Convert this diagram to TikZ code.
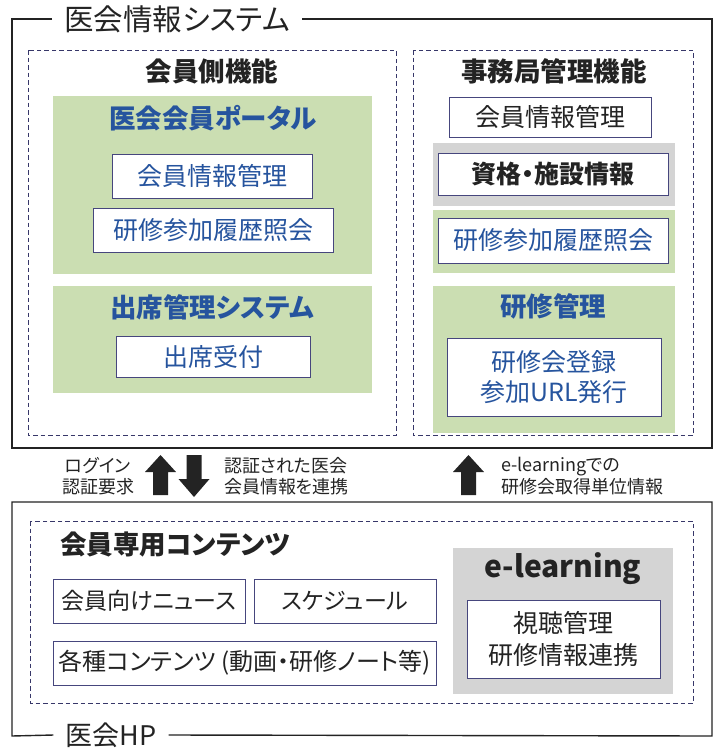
\documentclass[tikz,border=0pt]{standalone}
\usepackage{fontspec}
\setmainfont{Noto Sans CJK JP}[RawFeature=+palt]
\definecolor{framec}{RGB}{35,35,35}
\definecolor{dashc}{RGB}{55,55,105}
\definecolor{boxc}{RGB}{70,70,125}
\definecolor{greenc}{RGB}{203,222,178}
\definecolor{grayc}{RGB}{212,212,212}
\definecolor{bluec}{RGB}{38,84,158}
\definecolor{txtc}{RGB}{35,35,35}
\begin{document}
\begin{tikzpicture}[x=1pt,y=-1pt,
  frame/.style={draw=framec,line width=1.4pt},
  dbox/.style={draw=dashc,line width=1pt,dash pattern=on 4.5pt off 3pt},
  gbox/.style={fill=greenc,draw=none},
  graybox/.style={fill=grayc,draw=none},
  wbox/.style={draw=boxc,fill=white,line width=0.9pt,inner sep=0pt,align=center},
  maintitle/.style={inner sep=0pt,text=txtc,font=\fontsize{29.5}{32}\selectfont},
  ptitle/.style={inner sep=0pt,text=txtc,font=\fontsize{26.5}{30}\selectfont\bfseries},
  btitle/.style={inner sep=0pt,text=bluec,font=\fontsize{26.5}{30}\selectfont\bfseries},
  btext/.style={wbox,text=bluec,font=\fontsize{25}{30}\selectfont},
  ktext/.style={wbox,text=txtc,font=\fontsize{25}{32}\selectfont},
  stext/.style={wbox,text=txtc,font=\fontsize{23}{30}\selectfont},
  lbl/.style={inner sep=0pt,text=txtc,font=\fontsize{18}{21.5}\selectfont},
  arr/.style={fill=framec,draw=none}]
\useasboundingbox (0,0) rectangle (720,750);

% ===== top frame =====
\node[maintitle] (systitle) at (177,19) {医会情報システム};
\draw[frame] ([xshift=-12pt]systitle.west) -- (12,19) -- (12,448) -- (712,448) -- (712,19) -- ([xshift=12pt]systitle.east);

% left panel
\draw[dbox] (28,50) rectangle (396,435);
\node[ptitle] (memtitle) at (212,71) {会員側機能};
\fill[gbox] (53,96) rectangle (372,274);
\node[btitle] (portal) at (213,118) {医会会員ポータル};
\node[btext,minimum width=200,minimum height=44] (pinfo) at (212,176) {会員情報管理};
\node[btext,minimum width=240,minimum height=44] (phist) at (213,230) {研修参加履歴照会};
\fill[gbox] (53,286) rectangle (372,393);
\node[btitle] (attend) at (212,307) {出席管理システム};
\node[btext,minimum width=194,minimum height=41] (recept) at (213,356.5) {出席受付};

% right panel
\draw[dbox] (413,50) rectangle (693,435);
\node[ptitle] (offtitle) at (554,71) {事務局管理機能};
\node[ktext,minimum width=202,minimum height=40] (oinfo) at (550,117) {会員情報管理};
\fill[graybox] (433,143) rectangle (675,206);
\node[ktext,minimum width=230,minimum height=42,font=\fontsize{25}{30}\selectfont\bfseries] (qual) at (553,174) {資格・施設情報};
\fill[gbox] (433,210) rectangle (675,273);
\node[btext,minimum width=230,minimum height=45] (ohist) at (553,240.5) {研修参加履歴照会};
\fill[gbox] (433,286) rectangle (675,433);
\node[btitle] (trtitle) at (553,306) {研修管理};
\node[btext,minimum width=214,minimum height=78] (trreg) at (554,377) {研修会登録\\参加URL発行};

% ===== arrows =====
\fill[arr] (160.5,455) -- (176,472) -- (168,472) -- (168,495) -- (153,495) -- (153,472) -- (145,472) -- cycle;
\fill[arr] (194,497) -- (209.5,479) -- (201.5,479) -- (201.5,455) -- (186.5,455) -- (186.5,479) -- (178.5,479) -- cycle;
\fill[arr] (468.5,455) -- (484,472) -- (476,472) -- (476,495) -- (461,495) -- (461,472) -- (453,472) -- cycle;
\node[lbl,align=center] (login) at (98,476) {ログイン\\認証要求};
\node[lbl,align=left,anchor=west] (auth) at (224,476) {認証された医会\\会員情報を連携};
\node[lbl,align=left,anchor=west] (elinfo) at (501,476) {e-learningでの\\研修会取得単位情報};

% ===== bottom frame =====
\node[maintitle,font=\fontsize{27}{30}\selectfont] (hptitle) at (111,735) {医会HP};
\draw[frame] ([xshift=-12pt]hptitle.west) -- (12,736) -- (12,502) -- (712,502) -- (712,736) -- ([xshift=12pt]hptitle.east);
\draw[dbox] (30,521) rectangle (693,703);
\node[ptitle,anchor=west] (contitle) at (60,545) {会員専用コンテンツ};
\node[stext,minimum width=192,minimum height=44] (news) at (149,601) {会員向けニュース};
\node[stext,minimum width=182,minimum height=44] (sched) at (345,601) {スケジュール};
\node[stext,minimum width=383,minimum height=44,font=\fontsize{24}{30}\selectfont] (various) at (244.5,663) {各種コンテンツ (動画・研修ノート等)};
\fill[graybox] (453,548) rectangle (673,694);
\node[ptitle,font=\fontsize{30}{32}\selectfont\bfseries] (eltitle) at (563,569) {e-learning};
\node[ktext,minimum width=193,minimum height=78] (view) at (563.5,639) {視聴管理\\研修情報連携};
\end{tikzpicture}
\end{document}
